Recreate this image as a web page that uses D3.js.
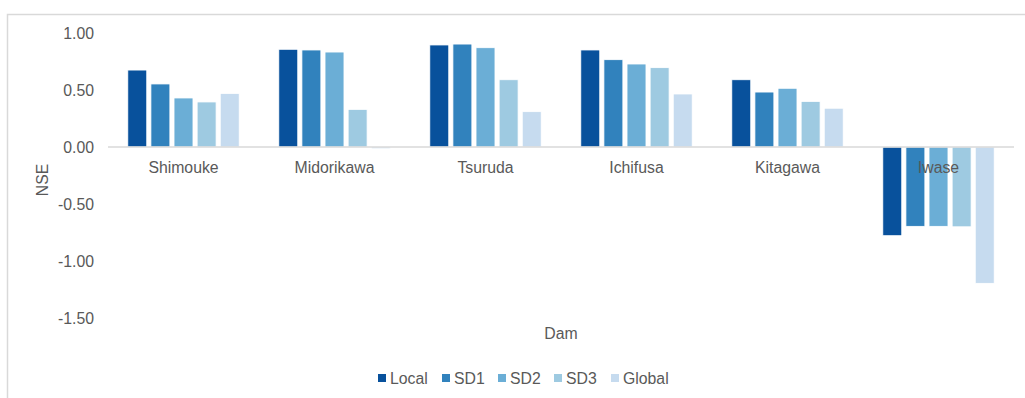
<!DOCTYPE html>
<html>
<head>
<meta charset="utf-8">
<script src="https://cdn.jsdelivr.net/npm/d3@7"></script>
<style>
  body { margin: 0; background: #fff; }
  svg text { font-family: "Liberation Sans", Arial, sans-serif; fill: #595959; }
</style>
</head>
<body>
<div id="chart"></div>
<script>
// --- data ---
const dams = ["Shimouke", "Midorikawa", "Tsuruda", "Ichifusa", "Kitagawa", "Iwase"];
const seriesNames = ["Local", "SD1", "SD2", "SD3", "Global"];
const colors = ["#08519c", "#3182bd", "#6baed6", "#9ecae1", "#c6dbef"];

const local  = [0.675, 0.857, 0.895, 0.851, 0.59, -0.778];
const sd1    = [0.553, 0.851, 0.903, 0.766, 0.482, -0.696];
const sd2    = [0.43, 0.833, 0.871, 0.728, 0.515, -0.696];
const sd3    = [0.395, 0.33, 0.59, 0.696, 0.40, -0.70];
const global = [0.47, -0.015, 0.31, 0.465, 0.34, -1.196];
const seriesValues = [local, sd1, sd2, sd3, global];

const yTicks = [1.0, 0.5, 0.0, -0.5, -1.0, -1.5];

// --- chart ---
const width = 1025, height = 398;
const fontSize = "15.8px";

const svg = d3.select("#chart").append("svg")
    .attr("width", width)
    .attr("height", height);

// outer chart border (only top/left visible in the crop)
svg.append("path")
    .attr("d", "M7.5,398 V14.5 H1025")
    .attr("fill", "none")
    .attr("stroke", "#d9d9d9")
    .attr("stroke-width", 1.5);

const x0 = d3.scaleBand().domain(dams).range([108, 1014]);
const x1 = d3.scaleBand().domain(seriesNames)
    .range([19.8, x0.bandwidth() - 19.8])
    .paddingInner(0.18);
const y = d3.scaleLinear().domain([-1.5, 1.0]).range([318, 33]);

const fmt = v => d3.format(".2f")(v).replace("−", "-");

// y tick labels
svg.append("g")
    .selectAll("text")
    .data(yTicks)
    .enter().append("text")
    .attr("x", 94)
    .attr("y", d => y(d))
    .attr("dy", "0.35em")
    .attr("text-anchor", "end")
    .style("font-size", fontSize)
    .text(fmt);

// bars
const groups = svg.append("g")
    .selectAll("g")
    .data(seriesNames)
    .enter().append("g")
    .attr("fill", (d, i) => colors[i]);

groups.selectAll("rect")
    .data((s, i) => seriesValues[i].map((v, j) => ({ dam: dams[j], series: s, value: v })))
    .enter().append("rect")
    .attr("x", d => x0(d.dam) + x1(d.series))
    .attr("width", x1.bandwidth())
    .attr("y", d => y(Math.max(0, d.value)))
    .attr("height", d => Math.abs(y(d.value) - y(0)))
    .attr("stroke", "#fff")
    .attr("stroke-width", 0.8);

// zero axis line
svg.append("line")
    .attr("x1", x0.range()[0])
    .attr("x2", x0.range()[1])
    .attr("y1", y(0))
    .attr("y2", y(0))
    .attr("stroke", "#d9d9d9")
    .attr("stroke-width", 1.5);

// category labels
svg.append("g")
    .selectAll("text")
    .data(dams)
    .enter().append("text")
    .attr("x", d => x0(d) + x0.bandwidth() / 2)
    .attr("y", y(0) + 20)
    .attr("dy", "0.35em")
    .attr("text-anchor", "middle")
    .style("font-size", fontSize)
    .text(d => d);

// axis titles
svg.append("text")
    .attr("transform", "translate(42,180) rotate(-90)")
    .attr("dy", "0.35em")
    .attr("text-anchor", "middle")
    .style("font-size", fontSize)
    .text("NSE");

svg.append("text")
    .attr("x", 561)
    .attr("y", 333)
    .attr("dy", "0.35em")
    .attr("text-anchor", "middle")
    .style("font-size", fontSize)
    .text("Dam");

// legend
const legendX = [378, 442, 498, 554, 611];
const legend = svg.append("g")
    .selectAll("g")
    .data(seriesNames)
    .enter().append("g")
    .attr("transform", (d, i) => `translate(${legendX[i]},378)`);

legend.append("rect")
    .attr("x", 0)
    .attr("y", -4)
    .attr("width", 8)
    .attr("height", 8)
    .attr("fill", (d, i) => colors[i]);

legend.append("text")
    .attr("x", 12)
    .attr("dy", "0.35em")
    .style("font-size", fontSize)
    .text(d => d);
</script>
</body>
</html>
